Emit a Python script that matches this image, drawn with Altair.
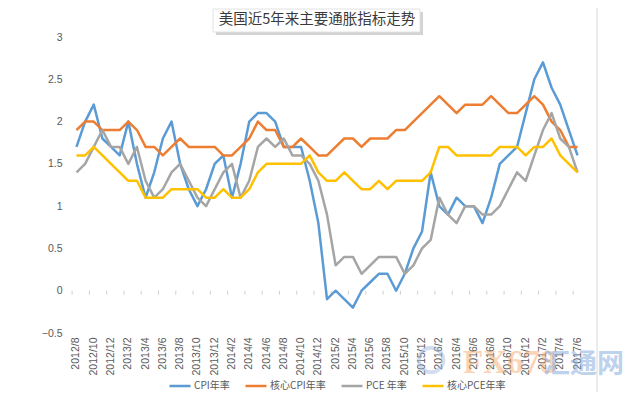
import altair as alt
import pandas as pd

months = [
    "2012/8", "2012/9", "2012/10", "2012/11", "2012/12",
    "2013/1", "2013/2", "2013/3", "2013/4", "2013/5", "2013/6",
    "2013/7", "2013/8", "2013/9", "2013/10", "2013/11", "2013/12",
    "2014/1", "2014/2", "2014/3", "2014/4", "2014/5", "2014/6",
    "2014/7", "2014/8", "2014/9", "2014/10", "2014/11", "2014/12",
    "2015/1", "2015/2", "2015/3", "2015/4", "2015/5", "2015/6",
    "2015/7", "2015/8", "2015/9", "2015/10", "2015/11", "2015/12",
    "2016/1", "2016/2", "2016/3", "2016/4", "2016/5", "2016/6",
    "2016/7", "2016/8", "2016/9", "2016/10", "2016/11", "2016/12",
    "2017/1", "2017/2", "2017/3", "2017/4", "2017/5", "2017/6",
]

cpi = [1.7, 2.0, 2.2, 1.8, 1.7,
       1.6, 2.0, 1.5, 1.1, 1.4, 1.8, 2.0, 1.5, 1.2, 1.0, 1.2, 1.5,
       1.6, 1.1, 1.5, 2.0, 2.1, 2.1, 2.0, 1.7, 1.7, 1.7, 1.3, 0.8,
       -0.1, 0.0, -0.1, -0.2, 0.0, 0.1, 0.2, 0.2, 0.0, 0.2, 0.5, 0.7,
       1.4, 1.0, 0.9, 1.1, 1.0, 1.0, 0.8, 1.1, 1.5, 1.6, 1.7, 2.1,
       2.5, 2.7, 2.4, 2.2, 1.9, 1.6]

core_cpi = [1.9, 2.0, 2.0, 1.9, 1.9,
            1.9, 2.0, 1.9, 1.7, 1.7, 1.6, 1.7, 1.8, 1.7, 1.7, 1.7, 1.7,
            1.6, 1.6, 1.7, 1.8, 2.0, 1.9, 1.9, 1.7, 1.7, 1.8, 1.7, 1.6,
            1.6, 1.7, 1.8, 1.8, 1.7, 1.8, 1.8, 1.8, 1.9, 1.9, 2.0, 2.1,
            2.2, 2.3, 2.2, 2.1, 2.2, 2.2, 2.2, 2.3, 2.2, 2.1, 2.1, 2.2,
            2.3, 2.2, 2.0, 1.9, 1.7, 1.7]

pce = [1.4, 1.5, 1.7, 1.9, 1.7,
       1.7, 1.5, 1.7, 1.3, 1.1, 1.2, 1.4, 1.5, 1.3, 1.1, 1.0, 1.2,
       1.4, 1.5, 1.1, 1.3, 1.7, 1.8, 1.7, 1.8, 1.6, 1.6, 1.5, 1.3,
       0.9, 0.3, 0.4, 0.4, 0.2, 0.3, 0.4, 0.4, 0.4, 0.2, 0.3, 0.5,
       0.6, 1.1, 0.9, 0.8, 1.0, 1.0, 0.9, 0.9, 1.0, 1.2, 1.4, 1.3,
       1.6, 1.9, 2.1, 1.8, 1.7, 1.4]

core_pce = [1.6, 1.6, 1.7, 1.6, 1.5,
            1.4, 1.3, 1.3, 1.1, 1.1, 1.1, 1.2, 1.2, 1.2, 1.2, 1.1, 1.1,
            1.2, 1.1, 1.1, 1.2, 1.4, 1.5, 1.5, 1.5, 1.5, 1.5, 1.6, 1.4,
            1.3, 1.3, 1.4, 1.3, 1.2, 1.2, 1.3, 1.2, 1.3, 1.3, 1.3, 1.3,
            1.4, 1.7, 1.7, 1.6, 1.6, 1.6, 1.6, 1.6, 1.7, 1.7, 1.7, 1.6,
            1.7, 1.7, 1.8, 1.6, 1.5, 1.4]

series_names = ["CPI年率", "核心CPI年率", "PCE 年率", "核心PCE年率"]
series_colors = ["#5B9BD5", "#ED7D31", "#A5A5A5", "#FFC000"]
y_ticks = [-0.5, 0, 0.5, 1, 1.5, 2, 2.5, 3]
x_label_values = months[::2]
title_text = "美国近5年来主要通胀指标走势"

rows = []
for name, vals in zip(series_names, [cpi, core_cpi, pce, core_pce]):
    for m, v in zip(months, vals):
        rows.append({"month": m, "series": name, "value": v})
df = pd.DataFrame(rows)

W, H = 514, 296
step = W / len(months)

x_enc = alt.X("month:O", scale=alt.Scale(domain=months, padding=0.5),
              axis=alt.Axis(title=None, values=x_label_values, labelAngle=270,
                            labelFontSize=10.5, labelColor="#595959",
                            labelFont="Liberation Sans", ticks=False,
                            domain=False, grid=False, labelPadding=4))
y_scale = alt.Scale(domain=[-0.5, 3], nice=False, zero=False)

lines = alt.Chart(df).mark_line(strokeWidth=2.5, strokeJoin="round").encode(
    x=x_enc,
    y=alt.Y("value:Q", scale=y_scale,
            axis=alt.Axis(title=None, values=y_ticks, format="~g",
                          gridColor="#d9d9d9", domain=False, ticks=False,
                          labelPadding=8, labelFontSize=10.5,
                          labelColor="#595959", labelFont="Liberation Sans")),
    color=alt.Color("series:N",
                    scale=alt.Scale(domain=series_names, range=series_colors),
                    legend=alt.Legend(title=None, orient="none",
                                      legendX=98, legendY=337, padding=0,
                                      direction="horizontal", columns=4,
                                      gridAlign="none",
                                      symbolType="stroke", symbolSize=441,
                                      symbolStrokeWidth=2.5,
                                      labelFont="Noto Sans CJK SC",
                                      labelFontSize=10, labelColor="#595959",
                                      columnPadding=10, labelOffset=2)),
    detail="series:N",
)

tick_df = pd.DataFrame({"month": x_label_values})
zero_ticks = alt.Chart(tick_df).mark_rule(
    color="#d0d0d0", strokeWidth=1, xOffset=-step / 2, y2Offset=4
).encode(
    x=alt.X("month:O", scale=alt.Scale(domain=months, padding=0.5)),
    y=alt.datum(0, scale=y_scale),
    y2=alt.datum(0),
)

one = pd.DataFrame({"t": [title_text]})
title_shadow = alt.Chart(one).mark_rect(color="#c8c8c8", opacity=0.8).encode(
    x=alt.value(146), x2=alt.value(353), y=alt.value(-25), y2=alt.value(-2))
title_box = alt.Chart(one).mark_rect(color="white", stroke="#e2e2e2",
                                     strokeWidth=1).encode(
    x=alt.value(143), x2=alt.value(350), y=alt.value(-28), y2=alt.value(-5))
title_mark = alt.Chart(one).mark_text(
    font="Noto Sans CJK SC", fontSize=14.5, color="#3a3a3a",
    align="center", baseline="middle").encode(
    x=alt.value(247), y=alt.value(-17), text="t:N")

border = alt.Chart(one).mark_rule(color="#d9d9d9", strokeWidth=1).encode(
    x=alt.value(527), y=alt.value(-29), y2=alt.value(355))

logo_df = pd.DataFrame({"a": ["FX678"], "b": ["汇通网"]})
logo_ring = alt.Chart(logo_df).mark_point(
    shape="circle", size=600, filled=False, stroke="#9db8e0",
    strokeWidth=4, opacity=0.45).encode(x=alt.value(361), y=alt.value(323))
logo_a = alt.Chart(logo_df).mark_text(
    font="Liberation Sans Narrow", fontWeight="bold", fontSize=33,
    color="#f6a25e", opacity=0.45, align="left", baseline="alphabetic").encode(
    x=alt.value(393), y=alt.value(336), text="a:N")
logo_b = alt.Chart(logo_df).mark_text(
    font="Noto Sans CJK SC", fontWeight="bold", fontSize=27,
    color="#7ea6da", opacity=0.5, align="left", baseline="bottom").encode(
    x=alt.value(473), y=alt.value(342), text="b:N")

chart = alt.layer(
    border, title_shadow, title_box, title_mark, zero_ticks, lines,
    logo_ring, logo_a, logo_b,
).properties(
    width=W, height=H,
    padding={"left": 62, "top": 29, "right": 48, "bottom": 59},
    autosize=alt.AutoSizeParams(type="none"),
    background="white",
).configure_view(stroke=None)

chart.save("out.html", embed_options={"renderer": "svg", "actions": False})
